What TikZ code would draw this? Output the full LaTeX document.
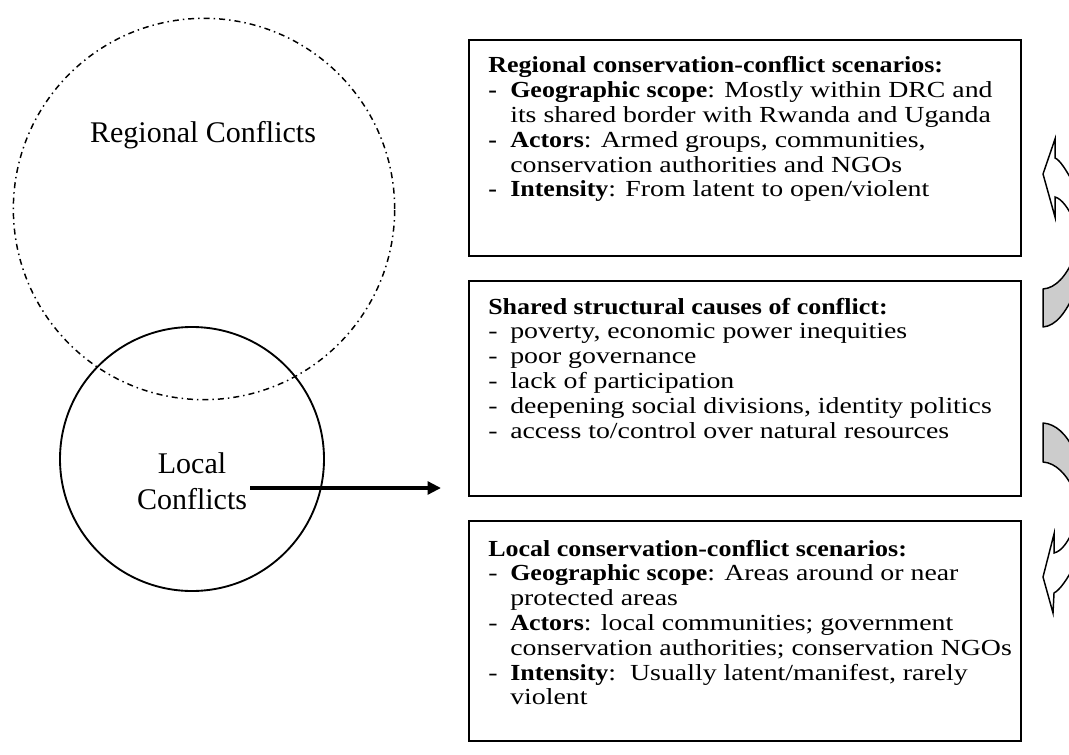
\documentclass[tikz,border=0pt]{standalone}
\usepackage{fontspec}
\setmainfont[UprightFeatures={FakeStretch=1.21}, BoldFeatures={FakeStretch=1.13}]{Liberation Serif}
\newfontfamily\labelfont{Liberation Serif}
\usetikzlibrary{arrows.meta}
\newcommand{\itm}{\makebox[16.5pt][l]{-}}
\newcommand{\bitm}{\makebox[16.5pt][l]{\textbf{-}}}
\newcommand{\ind}{\hspace*{16.5pt}}
\newcommand{\bodyfont}{\fontsize{17.25pt}{18.6pt}\selectfont}
\tikzset{
  box/.style={draw, line width=1.4pt, rectangle, inner sep=0pt, anchor=north west, minimum width=414pt},
  boxtext/.style={anchor=base west, inner sep=0pt, font=\bodyfont},
  biglabel/.style={inner sep=0pt, anchor=base, font=\labelfont\fontsize{22.5pt}{27pt}\selectfont, align=center},
  grayshape/.style={draw, line width=1.1pt, fill=black!20, line join=round},
  whiteshape/.style={draw, line width=1.1pt, fill=white, line join=miter},
  dashdot/.style={dash pattern=on 4.5pt off 3pt on 1.1pt off 3pt}
}
\begin{document}
\begin{tikzpicture}[x=0.75pt, y=-0.75pt]
\useasboundingbox (0,0) rectangle (1069,755);
\fill[white] (0,0) rectangle (1069,755);

% circles
\node[draw, circle, line width=1.1pt, dashdot, minimum size=286pt, inner sep=0pt] (regional) at (204,209) {};
\node[draw, circle, line width=1.4pt, minimum size=198pt, inner sep=0pt] (local) at (192,459) {};
\node[biglabel] (reglabel) at (203,143) {Regional Conflicts};
\node[biglabel] (loclabel) at (192,509) {Local\\Conflicts};

% arrow
\coordinate (arrowstart) at (250,488);
\coordinate (arrowend) at (441,488);
\draw[line width=2.6pt, -{Triangle[length=10pt,width=9.5pt]}] (arrowstart) -- (arrowend);

% boxes
\node[box, minimum height=162pt] (box1) at (468,39) {};
\node[box, minimum height=161.25pt] (box2) at (468,280) {};
\node[box, minimum height=165pt] (box3) at (468,520) {};

\node[boxtext] (text1) at (488,73) {\begin{tabular}[t]{@{}l@{}}
\textbf{Regional conservation-conflict scenarios:}\\
\bitm\textbf{Geographic scope}: Mostly within DRC and\\
\ind its shared border with Rwanda and Uganda\\
\bitm\textbf{Actors}: Armed groups, communities,\\
\ind conservation authorities and NGOs\\
\bitm\textbf{Intensity}: From latent to open/violent
\end{tabular}};

\node[boxtext] (text2) at (488,314) {\begin{tabular}[t]{@{}l@{}}
\textbf{Shared structural causes of conflict:}\\
\itm poverty, economic power inequities\\
\itm poor governance\\
\itm lack of participation\\
\itm deepening social divisions, identity politics\\
\itm access to/control over natural resources
\end{tabular}};

\node[boxtext] (text3) at (488,556) {\begin{tabular}[t]{@{}l@{}}
\textbf{Local conservation-conflict scenarios:}\\
\itm\textbf{Geographic scope}: Areas around or near\\
\ind protected areas\\
\itm\textbf{Actors}: local communities; government\\
\ind conservation authorities; conservation NGOs\\
\itm\textbf{Intensity}:\ \ Usually latent/manifest, rarely\\
\ind violent
\end{tabular}};

% clipped curved arrows at right edge
\begin{scope}
\clip (0,0) rectangle (1069,755);
\draw[whiteshape] (1074,184) .. controls (1066,170) and (1060,160) .. (1055,158)
  -- (1055,139) -- (1043,174) -- (1055,217) -- (1055,197)
  .. controls (1062,199) and (1068,208) .. (1074,220) -- cycle;
\draw[grayshape] (1074,258) .. controls (1066,276) and (1056,288) .. (1043,289)
  -- (1043,327) .. controls (1056,326) and (1066,312) .. (1074,294) -- cycle;
\draw[grayshape] (1074,450) .. controls (1066,434) and (1056,424) .. (1043,423)
  -- (1043,462) .. controls (1056,463) and (1066,474) .. (1074,490) -- cycle;
\draw[whiteshape] (1074,528) .. controls (1068,542) and (1062,551) .. (1054,553)
  -- (1054,534) -- (1043,577) -- (1053,613) -- (1054,593)
  .. controls (1060,590) and (1068,578) .. (1074,566) -- cycle;
\end{scope}
\end{tikzpicture}
\end{document}
